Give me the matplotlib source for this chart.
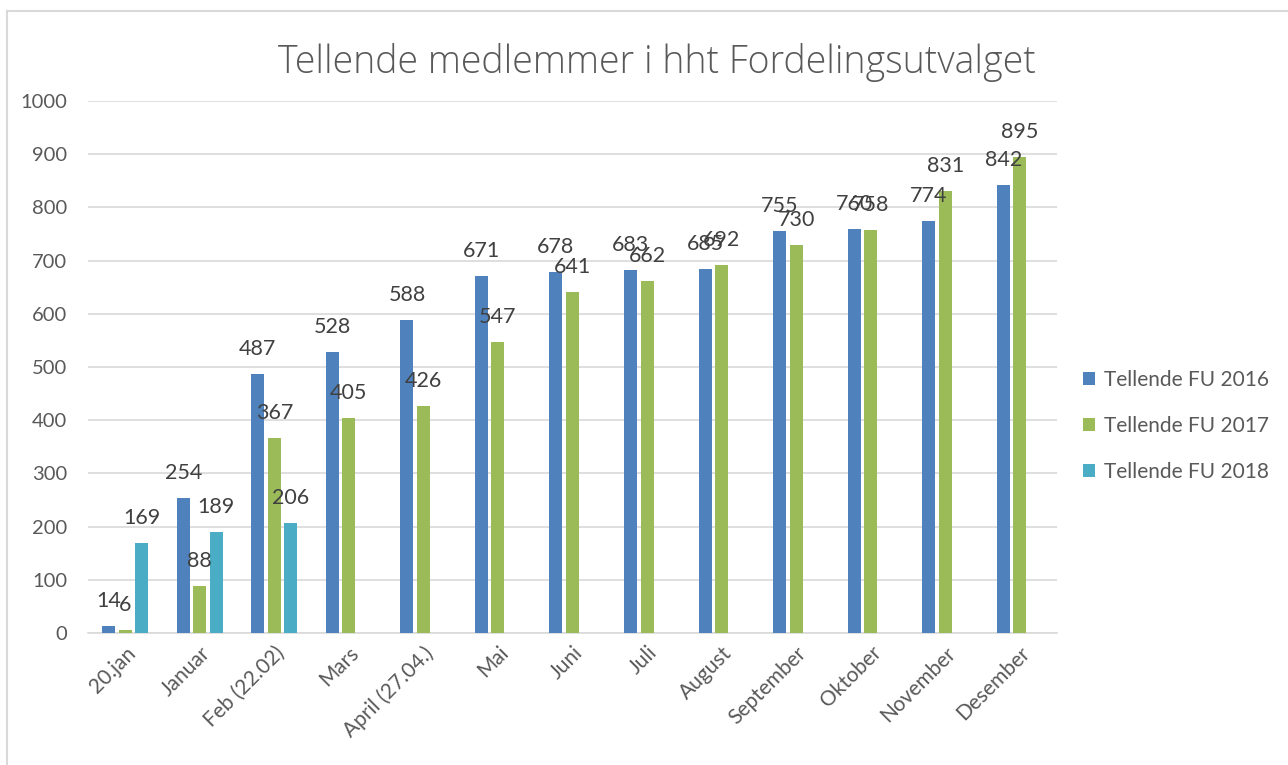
import matplotlib
matplotlib.use("Agg")
import matplotlib.pyplot as plt
import numpy as np
from matplotlib.lines import Line2D

categories = ["20.jan", "Januar", "Feb (22.02)", "Mars", "April (27.04.)", "Mai", "Juni",
              "Juli", "August", "September", "Oktober", "November", "Desember"]
fu2016 = [14, 254, 487, 528, 588, 671, 678, 683, 685, 755, 760, 774, 842]
fu2017 = [6, 88, 367, 405, 426, 547, 641, 662, 692, 730, 758, 831, 895]
fu2018 = [169, 189, 206, None, None, None, None, None, None, None, None, None, None]
series_names = ["Tellende FU 2016", "Tellende FU 2017", "Tellende FU 2018"]
colors = ["#4F81BD", "#9BBB59", "#4BACC6"]
title = "Tellende medlemmer i hht Fordelingsutvalget"
yticks = list(range(0, 1001, 100))

plt.rcParams['font.family'] = ['Lato', 'DejaVu Sans']

W, H = 1288, 765
fig = plt.figure(figsize=(W / 100, H / 100), dpi=100)
ax = fig.add_axes([88 / W, 1 - 633 / H, (1057 - 88) / W, (633 - 101) / H])

x = np.arange(len(categories))
bw = 13 / 74.5
step = 16.5 / 74.5
all_series = [fu2016, fu2017, fu2018]
handles = []
for i, (vals, name, c) in enumerate(zip(all_series, series_names, colors)):
    xs = [xi + (i - 1) * step for xi, v in zip(x, vals) if v is not None]
    vs = [v for v in vals if v is not None]
    bars = ax.bar(xs, vs, width=bw, color=c, label=name, zorder=3)
    for xi, v in zip(xs, vs):
        ax.annotate(str(v), (xi, v), xytext=(0, 18), textcoords="offset points",
                    ha="center", va="center", fontsize=15.5, color="#404040", zorder=4)
    handles.append(bars)

ax.set_xlim(-0.5, len(categories) - 0.5)
ax.set_ylim(0, 1000)
ax.set_yticks(yticks)
ax.set_yticklabels([str(t) for t in yticks], fontsize=14.5, color="#595959")
ax.set_xticks(x)
ax.set_xticklabels(categories, rotation=45, ha="right", rotation_mode="anchor",
                   fontsize=15, color="#595959")
ax.tick_params(axis="y", length=0, pad=15)
ax.tick_params(axis="x", length=0, pad=7)
ax.grid(axis="y", color="#D9D9D9", linewidth=1.2, zorder=0)
for s in ["top", "right", "left"]:
    ax.spines[s].set_visible(False)
ax.spines["bottom"].set_color("#D9D9D9")
ax.spines["bottom"].set_linewidth(1.2)

fig.text(657 / W, 1 - 63 / H, title, ha="center", va="center", fontsize=27,
         color="#595959", fontweight="light", family=["Open Sans", "DejaVu Sans"])

leg = fig.legend(handles=handles, labels=series_names, loc="center left",
                 bbox_to_anchor=(1064 / W, 1 - 426 / H), frameon=False,
                 fontsize=15, handlelength=0.6, handleheight=0.6,
                 labelspacing=1.25, handletextpad=0.4)
for t in leg.get_texts():
    t.set_color("#595959")

# chart border
fig.add_artist(Line2D([7 / W, 7 / W], [0, 1 - 11 / H], transform=fig.transFigure,
                      color="#D9D9D9", linewidth=1.5))
fig.add_artist(Line2D([7 / W, 1], [1 - 11 / H, 1 - 11 / H], transform=fig.transFigure,
                      color="#D9D9D9", linewidth=1.5))

fig.savefig("out.png", dpi=100)
